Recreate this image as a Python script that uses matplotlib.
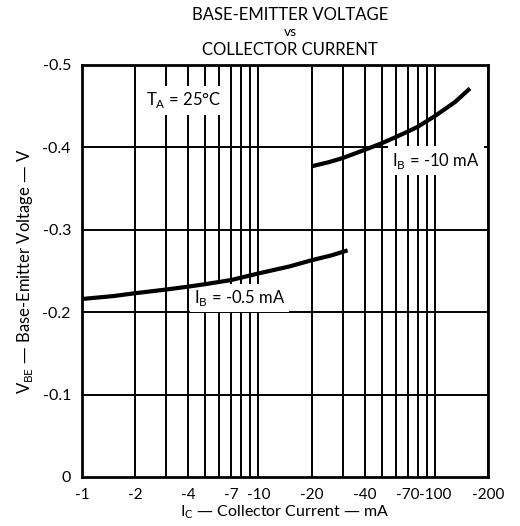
import matplotlib
matplotlib.use("Agg")
import matplotlib.pyplot as plt

plt.rcParams['font.family'] = ['Lato', 'DejaVu Sans']

# Data (collector current magnitude in mA, VBE in volts)
ic_05 = [1, 1.5, 2, 3, 4, 5, 7, 10, 15, 20, 26, 32]
vbe_05 = [-0.216, -0.2195, -0.223, -0.2275, -0.231, -0.234, -0.239, -0.247, -0.2555, -0.263, -0.269, -0.275]

ic_10 = [20, 25, 30, 40, 50, 60, 70, 80, 100, 130, 158]
vbe_10 = [-0.377, -0.382, -0.387, -0.397, -0.405, -0.4125, -0.419, -0.425, -0.438, -0.455, -0.4715]

grid_x = [1, 2, 3, 4, 5, 6, 7, 8, 9, 10, 20, 30, 40, 50, 60, 70, 80, 90, 100, 200]
xtick_vals = [1, 2, 4, 7, 10, 20, 40, 70, 100, 200]
xtick_labels = ['-1', '-2', '-4', '-7', '-10', '-20', '-40', '-70', '-100', '-200']
ytick_vals = [0, -0.1, -0.2, -0.3, -0.4, -0.5]
ytick_labels = ['0', '-0.1', '-0.2', '-0.3', '-0.4', '-0.5']

fig = plt.figure(figsize=(5.20, 5.26), dpi=100)
ax = fig.add_axes([0.1577, 0.0932, 0.7808, 0.7833])
ax.set_xscale('log')
ax.set_xlim(1, 200)
ax.set_ylim(0, -0.5)

for gx in grid_x:
    ax.axvline(gx, color='black', lw=1.4, zorder=1)
for gy in ytick_vals[1:-1]:
    ax.axhline(gy, color='black', lw=1.4, zorder=1)

ax.set_xticks(xtick_vals)
ax.set_xticklabels(xtick_labels)
ax.xaxis.set_minor_locator(matplotlib.ticker.NullLocator())
ax.set_yticks(ytick_vals)
ax.set_yticklabels(ytick_labels)
ax.tick_params(length=0, labelsize=11.5, pad=8)
ax.tick_params(axis='x', labelsize=11)
for s in ax.spines.values():
    s.set_linewidth(2)

ax.plot(ic_05, vbe_05, color='black', lw=3, zorder=5, solid_capstyle='butt')
ax.plot(ic_10, vbe_10, color='black', lw=3, zorder=5, solid_capstyle='butt')

box = dict(facecolor='white', edgecolor='none', pad=3)
ax.text(2.3, -0.457, r'T$_\mathregular{A}$ = 25°C', fontsize=12, va='center', ha='left', bbox=box, zorder=3)
ax.text(57, -0.384, r'I$_\mathregular{B}$ = -10 mA', fontsize=12, va='center', ha='left', bbox=box, zorder=3)
ax.text(4.3, -0.217, r'I$_\mathregular{B}$ = -0.5 mA', fontsize=12, va='center', ha='left', bbox=box, zorder=3)

fig.text(0.558, 0.972, 'BASE-EMITTER VOLTAGE', fontsize=12, ha='center', va='center')
fig.text(0.558, 0.939, 'vs', fontsize=10, ha='center', va='center')
fig.text(0.558, 0.905, 'COLLECTOR CURRENT', fontsize=12, ha='center', va='center')

ax.set_xlabel(r'I$_\mathregular{C}$ — Collector Current — mA', fontsize=11.5, labelpad=1)
ax.set_ylabel(r'V$_\mathregular{BE}$ — Base-Emitter Voltage — V', fontsize=12, labelpad=5)

fig.savefig('out.png', dpi=100)
